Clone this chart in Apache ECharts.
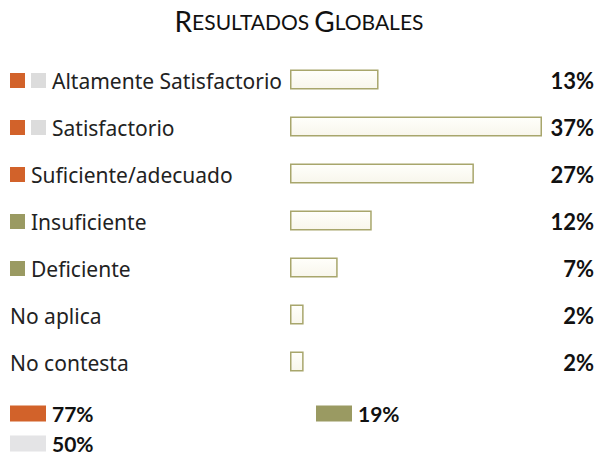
<!DOCTYPE html>
<html>
<head>
<meta charset="utf-8">
<script src="https://cdn.jsdelivr.net/npm/echarts@6/dist/echarts.min.js"></script>
<style>
  html, body { margin: 0; padding: 0; background: #fff; }
  #chart { width: 598px; height: 455px; }
</style>
</head>
<body>
<div id="chart"></div>
<script>
var categories = ['Altamente Satisfactorio', 'Satisfactorio', 'Suficiente/adecuado', 'Insuficiente', 'Deficiente', 'No aplica', 'No contesta'];
var values = [13, 37, 27, 12, 7, 2, 2];
// markers before each label: o = orange, g = gray, v = olive
var markers = [['o', 'g'], ['o', 'g'], ['o'], ['v'], ['v'], [], []];
var summaryNames = ['77%', '19%', '50%'];
var summaryColors = ['#D2622A', '#9A9A62', '#E4E4E6'];

var orange = '#D2622A';
var gray = '#DCDCDC';
var olive = '#9A9A62';

var chart = echarts.init(document.getElementById('chart'), null, { renderer: 'svg' });

var labelFont = '"Noto Sans", sans-serif';
var numFont = 'Lato, sans-serif';

var sq = function(c) {
  return { width: 15, height: 15, backgroundColor: c, padding: 0 };
};

chart.setOption({
  animation: false,
  title: {
    text: '{b|R}{s|ESULTADOS} {b|G}{s|LOBALES}',
    left: 'center',
    top: 2,
    textStyle: {
      rich: {
        b: { fontFamily: numFont, fontWeight: 'normal', fontSize: 28, color: '#111' },
        s: { fontFamily: numFont, fontWeight: 'normal', fontSize: 21, color: '#111' }
      }
    }
  },
  grid: { left: 290, right: 56, top: 57, height: 329 },
  xAxis: {
    type: 'value',
    min: 0,
    max: 37,
    show: false
  },
  yAxis: [
    {
      type: 'category',
      data: categories,
      inverse: true,
      axisLine: { show: false },
      axisTick: { show: false },
      axisLabel: {
        align: 'left',
        margin: 280,
        color: '#222',
        fontFamily: labelFont,
        fontSize: 21,
        formatter: function(v, i) {
          var s = '';
          markers[i].forEach(function(m) { s += '{' + m + '| }{sp| }'; });
          return s + '{t|' + v + '}';
        },
        rich: {
          o: sq(orange),
          g: sq(gray),
          v: sq(olive),
          sp: { width: 6 },
          t: { fontFamily: labelFont, fontSize: 21, color: '#222' }
        }
      }
    },
    {
      type: 'category',
      data: values.map(function(v) { return v + '%'; }),
      inverse: true,
      position: 'right',
      axisLine: { show: false },
      axisTick: { show: false },
      axisLabel: {
        align: 'right',
        margin: 52,
        color: '#111',
        fontFamily: numFont,
        fontWeight: 'bold',
        fontSize: 22
      }
    }
  ],
  legend: [
    { data: [summaryNames[0]], left: 10, top: 403 },
    { data: [summaryNames[1]], left: 316, top: 403 },
    { data: [summaryNames[2]], left: 10, top: 433 }
  ].map(function(l) {
    l.icon = 'rect';
    l.itemWidth = 36;
    l.itemHeight = 16;
    l.itemGap = 6;
    l.padding = 0;
    l.selectedMode = false;
    l.textStyle = { fontFamily: numFont, fontWeight: 'bold', fontSize: 21, lineHeight: 16, color: '#111', padding: [0, 0, 0, 1] };
    return l;
  }),
  series: [
    {
      type: 'bar',
      data: values,
      barWidth: 20,
      itemStyle: {
        color: {
          type: 'linear', x: 0, y: 0, x2: 0, y2: 1,
          colorStops: [
            { offset: 0, color: '#FFFFFB' },
            { offset: 1, color: '#F8F6EC' }
          ]
        },
        borderColor: '#A8A66C',
        borderWidth: 1.5
      }
    }
  ].concat(summaryNames.map(function(n, i) {
    return { type: 'bar', name: n, data: [], itemStyle: { color: summaryColors[i] } };
  }))
});
</script>
</body>
</html>
